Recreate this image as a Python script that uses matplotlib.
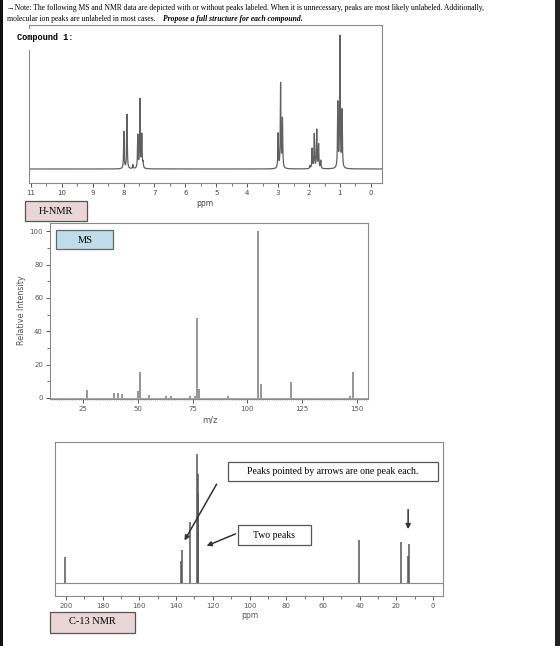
import numpy as np
import matplotlib
matplotlib.use('Agg')
import matplotlib.pyplot as plt
from matplotlib.patches import Rectangle

# H-NMR peaks (ppm, relative height)
h_ppm = [7.99, 7.89, 7.70, 7.54, 7.47, 7.41, 7.37,
         3.00, 2.92, 2.86,
         1.97, 1.90, 1.83, 1.75, 1.69, 1.62,
         1.07, 1.00, 0.93]
h_int = [0.28, 0.41, 0.03, 0.25, 0.52, 0.25, 0.04,
         0.26, 0.64, 0.37,
         0.02, 0.15, 0.26, 0.29, 0.18, 0.06,
         0.49, 0.99, 0.43]
h_ticks = list(range(0, 12))

# mass spectrum
ms_mz = [27, 39, 41, 43, 50, 51, 55, 63, 65, 74, 76, 77, 78, 91, 105, 106, 120, 147, 148]
ms_int = [5, 3, 3, 2.5, 4, 15.5, 2, 1, 1, 1, 1.5, 48, 5.5, 1.5, 100, 8.5, 9.8, 1.5, 15.5]
ms_xticks = [25, 50, 75, 100, 125, 150]
ms_yticks = [0, 20, 40, 60, 80, 100]

# C-13 NMR lines
c_ppm = [200.3, 137.3, 136.8, 132.6, 128.6, 128.3, 128.0, 40.3, 17.6, 13.6, 13.1]
c_int = [20, 17, 25.6, 47.5, 100, 84, 69.5, 33.3, 31.8, 21, 30]
c_ticks = list(range(0, 201, 20))

W, H = 560, 646
fig = plt.figure(figsize=(W / 100, H / 100), dpi=100)


def fx(x):
    return x / W


def fy(y):
    return 1 - y / H


def box(x0, y0, x1, y1, fc, ec='#555555', lw=0.9):
    fig.add_artist(Rectangle((fx(x0), fy(y1)), (x1 - x0) / W, (y1 - y0) / H,
                             transform=fig.transFigure, facecolor=fc,
                             edgecolor=ec, lw=lw, zorder=2))


serif = ['Liberation Serif', 'DejaVu Serif']
tick_col = '#555555'
frame_col = '#8a8a8a'

# header
fig.text(fx(7), fy(8), '\u2192Note: The following MS and NMR data are depicted with or without peaks labeled. '
         'When it is unnecessary, peaks are most likely unlabeled. Additionally,',
         family=serif, fontsize=5.5, va='center', ha='left')
fig.text(fx(7), fy(19), 'molecular ion peaks are unlabeled in most cases.',
         family=serif, fontsize=5.5, va='center', ha='left')
fig.text(fx(163), fy(19), 'Propose a full structure for each compound.',
         family=serif, fontsize=5.5, va='center', ha='left', weight='bold', style='italic')

# ---- H-NMR ----
ax1 = fig.add_axes([fx(29), fy(183), 353 / W, 158 / H])
x = np.linspace(-0.4, 11.1, 30000)
g = 0.011
y = np.zeros_like(x)
for p, a in zip(h_ppm, h_int):
    y += a * g**2 / ((x - p)**2 + g**2)
ax1.plot(x, y, color='#606060', lw=0.9)
ax1.set_xlim(11.06, -0.36)
ax1.set_ylim(-0.106, 1.09)
ax1.set_yticks([])
ax1.set_xticks(h_ticks)
ax1.set_xticks(np.arange(0.5, 11, 1), minor=True)
ax1.tick_params(axis='x', which='major', length=3, width=0.7, color=tick_col,
                labelsize=5, labelcolor='#444444', pad=2)
ax1.tick_params(axis='x', which='minor', length=2, width=0.6, color=tick_col)
for s in ax1.spines.values():
    s.set_color(frame_col)
    s.set_linewidth(0.8)
fig.text(fx(205), fy(203), 'ppm', fontsize=5.5, color='#444444', ha='center', va='center')

# white patch behind the compound label
fig.add_artist(Rectangle((fx(12), fy(50)), 70 / W, 21 / H, transform=fig.transFigure,
                         facecolor='white', edgecolor='none', zorder=2))
fig.text(fx(17), fy(37), 'Compound 1:', family=['Liberation Mono', 'DejaVu Sans Mono'],
         fontsize=6.2, weight='bold', ha='left', va='center')

# ---- MS ----
ax2 = fig.add_axes([fx(50), fy(399), 318 / W, 176 / H])
ax2.vlines(ms_mz, 0, ms_int, colors='#8c8c8c', lw=1.3)
ax2.axhline(0, color='#999999', lw=0.6)
ax2.set_xlim(10, 155)
ax2.set_ylim(-0.6, 105)
ax2.set_xticks(ms_xticks)
ax2.set_xticks(np.arange(11, 155, 1), minor=True)
ax2.set_yticks(ms_yticks)
ax2.set_yticks(np.arange(10, 101, 20), minor=True)
ax2.tick_params(which='major', length=3, width=0.7, color=tick_col,
                labelsize=5, labelcolor='#555555', pad=2)
ax2.tick_params(axis='x', which='minor', length=1.5, width=0.5, color='#999999', direction='inout')
ax2.tick_params(axis='y', which='minor', length=2, width=0.6, color=tick_col)
for s in ax2.spines.values():
    s.set_color(frame_col)
    s.set_linewidth(0.8)
fig.text(fx(210), fy(420), 'm/z', fontsize=6, color='#555555', ha='center', va='center')
fig.text(fx(22), fy(310), 'Relative Intensity', fontsize=5.8, color='#555555',
         ha='center', va='center', rotation=90)

# ---- C-13 NMR ----
ax3 = fig.add_axes([fx(55), fy(596), 388 / W, 154 / H])
ax3.axhline(0, color='#8a8a8a', lw=0.8)
ax3.vlines(c_ppm, 0, c_int, colors='#555555', lw=1.1)
ax3.set_xlim(206, -5.4)
ax3.set_ylim(-10, 109)
ax3.set_yticks([])
ax3.set_xticks(c_ticks)
ax3.set_xticks(np.arange(10, 200, 20), minor=True)
ax3.tick_params(axis='x', which='major', length=3, width=0.7, color=tick_col,
                labelsize=5, labelcolor='#555555', pad=2)
ax3.tick_params(axis='x', which='minor', length=2, width=0.6, color=tick_col)
for s in ax3.spines.values():
    s.set_color(frame_col)
    s.set_linewidth(0.8)
fig.text(fx(250), fy(616), 'ppm', fontsize=5.5, color='#555555', ha='center', va='center')

arrow = dict(arrowstyle='-|>', color='#333333', lw=1.1, mutation_scale=7)
ax3.annotate('', xy=(136.2, 31), xytext=(117.2, 78.3), arrowprops=arrow)
ax3.annotate('', xy=(124.8, 27.9), xytext=(106.3, 38.8), arrowprops=arrow)
ax3.annotate('', xy=(13.6, 39.5), xytext=(13.6, 58.9), arrowprops=arrow)

# label boxes
box(25, 201, 87, 221, '#ead5d8')
fig.text(fx(56), fy(211), 'H-NMR', family=serif, fontsize=7.5, ha='center', va='center', zorder=3)
box(56, 230, 113, 249, '#bddde8', ec='#666666')
fig.text(fx(85), fy(240), 'MS', family=serif, fontsize=7.5, ha='center', va='center', zorder=3)
box(50, 612, 135, 633, '#ead5d8')
fig.text(fx(92), fy(622), 'C-13 NMR', family=serif, fontsize=7.5, ha='center', va='center', zorder=3)
box(228, 462, 438, 481, 'white')
fig.text(fx(333), fy(471.5), 'Peaks pointed by arrows are one peak each.', family=serif,
         fontsize=7, ha='center', va='center', zorder=3)
box(238, 525, 311, 545, 'white')
fig.text(fx(274), fy(535), 'Two peaks', family=serif, fontsize=7, ha='center', va='center', zorder=3)

# dark page edges
fig.add_artist(Rectangle((0, 0), 3 / W, 1, transform=fig.transFigure, facecolor='#111111',
                         edgecolor='none', zorder=2))
fig.add_artist(Rectangle((fx(555), 0), 5 / W, 1, transform=fig.transFigure, facecolor='#222222',
                         edgecolor='none', zorder=2))

fig.savefig('out.png', dpi=100)
